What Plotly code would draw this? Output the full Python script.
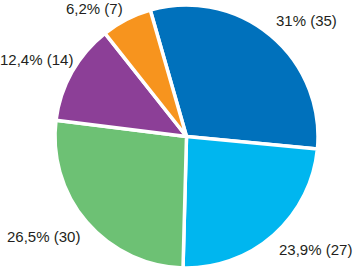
import math
import plotly.graph_objects as go

labels = ["A", "B", "C", "D", "E"]
values = [35, 27, 30, 14, 7]
colors = ["#0071BC", "#00B6EF", "#6DC174", "#8C3F97", "#F7941E"]

W, H = 356, 272
# pie geometry (pixels from top-left)
PX0, PX1, PY0, PY1 = 55, 318, 5, 268
cx, cy = (PX0 + PX1) / 2, (PY0 + PY1) / 2
ROT = -16
LABEL_R = 140
FS = 15
CHAR_W = {",": 0.278, "%": 0.889, " ": 0.278, "(": 0.333, ")": 0.333}


def text_width(t):
    return sum(CHAR_W.get(ch, 0.556) for ch in t) * FS


fig = go.Figure(go.Pie(
    labels=labels,
    values=values,
    sort=False,
    direction="clockwise",
    rotation=ROT,
    marker=dict(colors=colors, line=dict(color="white", width=3.5)),
    textinfo="none",
    showlegend=False,
    hoverinfo="skip",
    domain=dict(x=[PX0 / W, PX1 / W], y=[1 - PY1 / H, 1 - PY0 / H]),
    automargin=False,
))

total = sum(values)
cum = 0
annotations = []
for v in values:
    mid = ROT + (cum + v / 2) / total * 360
    cum += v
    s, c = math.sin(math.radians(mid)), math.cos(math.radians(mid))
    px, py = cx + LABEL_R * s, cy - LABEL_R * c
    pct = f"{v / total * 100:.1f}".rstrip("0").rstrip(".").replace(".", ",")
    txt = f"{pct}% ({v})"
    w, h = text_width(txt), FS * 1.1
    # box left/top from anchor corner
    left = px if s > 0.1 else (px - w if s < -0.1 else px - w / 2)
    top = py - h if c > 0 else py
    left = min(max(left, 0), W - w)
    top = min(max(top, 0), H - h)
    annotations.append(dict(
        x=left / W, y=1 - top / H, xref="paper", yref="paper",
        text=txt, showarrow=False, xanchor="left", yanchor="top",
        borderpad=0, borderwidth=0,
        font=dict(family="Liberation Sans, Arial, sans-serif", size=FS, color="#231F20"),
    ))

fig.update_layout(
    width=W, height=H,
    margin=dict(l=0, r=0, t=0, b=0),
    paper_bgcolor="white",
    plot_bgcolor="white",
    annotations=annotations,
)
fig.write_html("out.html", config={"displayModeBar": False},
               post_script="document.body.style.margin='0';")
